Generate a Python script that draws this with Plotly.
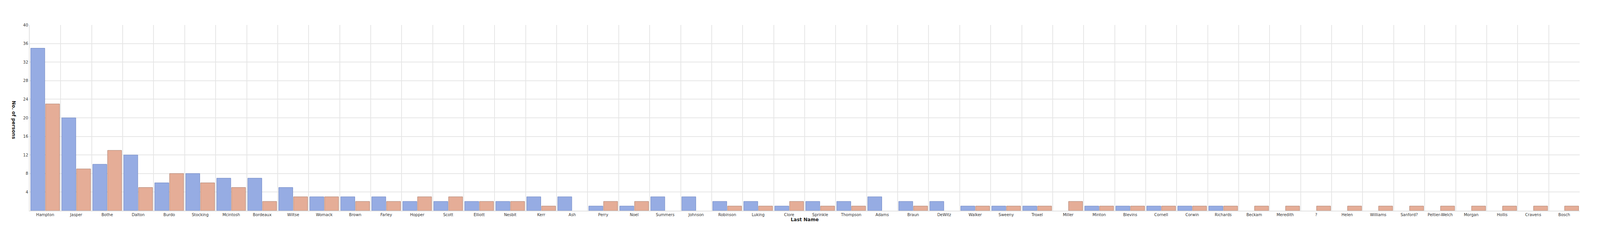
import plotly.graph_objects as go

names = ["Hampton", "Jasper", "Bothe", "Dalton", "Burdo", "Stocking", "Mcintosh", "Bordeaux",
         "Wiltse", "Womack", "Brown", "Farley", "Hopper", "Scott", "Elliott", "Nesbit", "Kerr",
         "Ash", "Perry", "Noel", "Summers", "Johnson", "Robinson", "Luking", "Clore", "Sprinkle",
         "Thompson", "Adams", "Braun", "DeWitz", "Walker", "Sweeny", "Troxel", "Miller", "Minton",
         "Blevins", "Cornell", "Corwin", "Richards", "Beckam", "Meredith", "?", "Helen",
         "Williams", "Sanford?", "Peltier-Welch", "Morgan", "Hollis", "Cravens", "Bosch"]

series_a = [35, 20, 10, 12, 6, 8, 7, 7, 5, 3, 3, 3, 2, 2, 2, 2, 3,
            3, 1, 1, 3, 3, 2, 2, 1, 2, 2, 3, 2, 2, 1, 1, 1, 0, 1,
            1, 1, 1, 1, 0, 0, 0, 0, 0, 0, 0, 0, 0, 0, 0]

series_b = [23, 9, 13, 5, 8, 6, 5, 2, 3, 3, 2, 2, 3, 3, 2, 2, 1,
            0, 2, 2, 0, 0, 1, 1, 2, 1, 1, 0, 1, 0, 1, 1, 1, 2, 1,
            1, 1, 1, 1, 1, 1, 1, 1, 1, 1, 1, 1, 1, 1, 1]

y_ticks = [4, 8, 12, 16, 20, 24, 28, 32, 36, 40]

FONT = "DejaVu Sans"


def nz(vals):
    # zero counts draw no bar at all
    return [v if v else None for v in vals]


fig = go.Figure()
fig.add_trace(go.Bar(
    x=names, y=nz(series_a), name="Series A",
    marker=dict(color="#96ace3", line=dict(color="#6f86c2", width=1)),
))
fig.add_trace(go.Bar(
    x=names, y=nz(series_b), name="Series B",
    marker=dict(color="#e5ad97", line=dict(color="#ad8070", width=1)),
))

# the browser viewport is 4096 px wide; the page body adds an 8 px margin
fig.update_layout(
    width=4088, height=620,
    margin=dict(l=68, r=52, t=56, b=88),
    paper_bgcolor="white", plot_bgcolor="white",
    barmode="group", bargap=0.045, bargroupgap=0.05,
    showlegend=False,
    font=dict(family=FONT, size=10, color="#333333"),
    xaxis=dict(
        type="category", tickson="boundaries", tickangle=0,
        showgrid=True, gridcolor="#e6e6e6", gridwidth=1.5,
        showline=True, linecolor="#e2e2e2", linewidth=2,
        ticks="", tickfont=dict(family=FONT, size=10, color="#333333"),
        title=dict(text="<b>Last Name</b>", font=dict(family=FONT, size=12, color="#222222"), standoff=4),
    ),
    yaxis=dict(
        range=[0, 40], tickvals=y_ticks,
        showgrid=True, gridcolor="#e6e6e6", gridwidth=1.5,
        showline=True, linecolor="#e2e2e2", linewidth=2,
        zeroline=False, ticks="",
        tickfont=dict(family=FONT, size=10, color="#333333"),
    ),
    annotations=[dict(
        text="<b>No. of persons</b>", textangle=90,
        xref="paper", yref="paper", x=-0.0102, y=0.49,
        xanchor="center", yanchor="middle", showarrow=False,
        font=dict(family=FONT, size=12, color="#222222"),
    )],
)

fig.write_html("out.html")
